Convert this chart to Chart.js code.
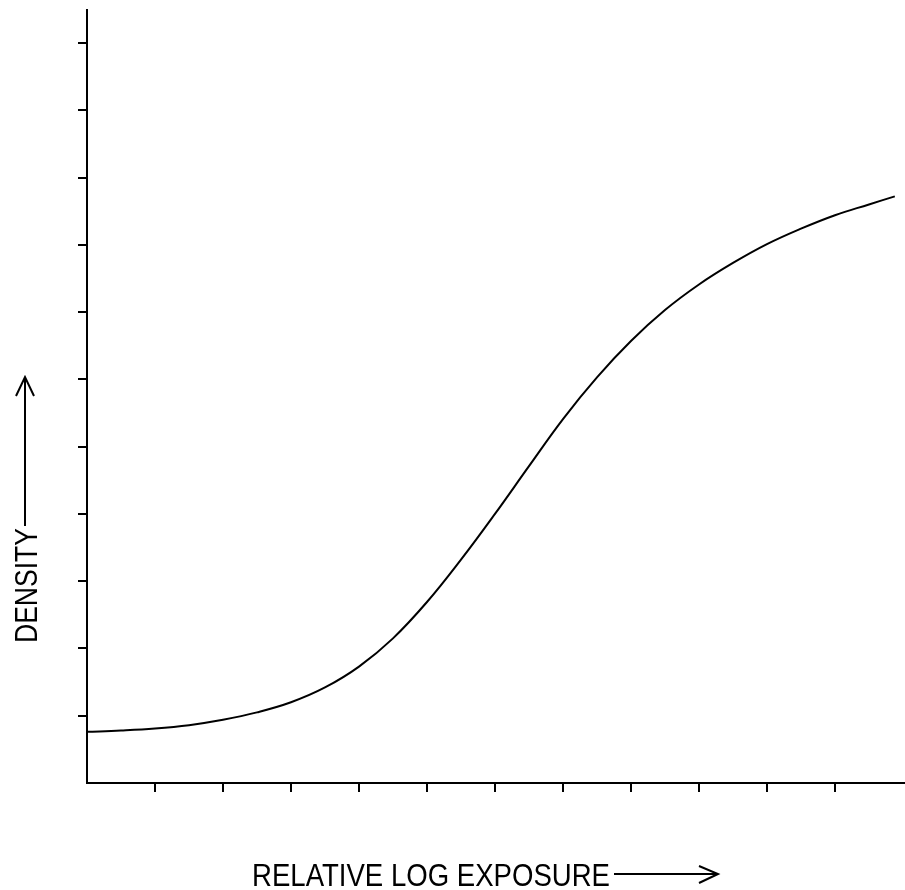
<!DOCTYPE html>
<html>
<head>
<meta charset="utf-8">
<script src="https://cdn.jsdelivr.net/npm/chart.js@4"></script>
<style>
html,body{margin:0;padding:0;background:#fff;}
#wrap{width:905px;height:890px;}
</style>
</head>
<body>
<div id="wrap"><canvas id="c" width="905" height="890"></canvas></div>
<script>
// Data (relative log exposure units = tick index, density units = tick index)
const logExposure = [0, 0.5, 1, 1.5, 2, 2.5, 3, 3.5, 4, 4.5, 5, 5.5, 6, 6.5, 7, 7.5, 8, 8.5, 9, 9.5, 10, 10.5, 11, 11.5, 11.88];
const density     = [0.76, 0.78, 0.81, 0.86, 0.94, 1.05, 1.20, 1.42, 1.73, 2.15, 2.69, 3.32, 4.00, 4.71, 5.41, 6.03, 6.57, 7.03, 7.41, 7.73, 8.01, 8.24, 8.44, 8.60, 8.72];
const xTickValues = [1, 2, 3, 4, 5, 6, 7, 8, 9, 10, 11];
const yTickValues = [1, 2, 3, 4, 5, 6, 7, 8, 9, 10, 11];
const xTitle = "RELATIVE LOG EXPOSURE";
const yTitle = "DENSITY";

const points = logExposure.map((x, i) => ({x: x, y: density[i]}));

const titlesPlugin = {
  id: 'titles',
  afterDraw(chart) {
    const ctx = chart.ctx;
    ctx.save();
    ctx.fillStyle = '#000';
    ctx.strokeStyle = '#000';
    ctx.lineWidth = 2;
    ctx.font = '32px "Liberation Sans", Arial, sans-serif';
    ctx.textBaseline = 'alphabetic';
    ctx.textAlign = 'left';
    // x title
    let w = ctx.measureText(xTitle).width;
    let sx = 358 / w;
    ctx.save();
    ctx.translate(252, 886);
    ctx.scale(sx, 1);
    ctx.fillText(xTitle, 0, 0);
    ctx.restore();
    // x arrow
    ctx.beginPath();
    ctx.moveTo(614, 874); ctx.lineTo(717, 874);
    ctx.moveTo(699, 866); ctx.lineTo(718, 874); ctx.lineTo(699, 883);
    ctx.stroke();
    // y title
    w = ctx.measureText(yTitle).width;
    sx = 115 / w;
    ctx.save();
    ctx.translate(37, 643);
    ctx.rotate(-Math.PI / 2);
    ctx.scale(sx, 1);
    ctx.fillText(yTitle, 0, 0);
    ctx.restore();
    // y arrow
    ctx.beginPath();
    ctx.moveTo(25, 526); ctx.lineTo(25, 378);
    ctx.moveTo(16, 396); ctx.lineTo(25, 377); ctx.lineTo(34, 396);
    ctx.stroke();
    ctx.restore();
  }
};

new Chart(document.getElementById('c'), {
  type: 'line',
  data: {
    datasets: [{
      data: points,
      borderColor: '#000',
      borderWidth: 2,
      pointRadius: 0,
      fill: false,
      tension: 0.4
    }]
  },
  options: {
    responsive: false,
    animation: false,
    layout: {padding: {top: 10, right: 0, left: 0, bottom: 0}},
    plugins: {legend: {display: false}, tooltip: {enabled: false}, title: {display: false}},
    scales: {
      x: {
        type: 'linear',
        min: 0,
        max: 12.03,
        afterBuildTicks(s) { s.ticks = xTickValues.map(v => ({value: v})); },
        afterFit(s) { s.height = 107; },
        ticks: {display: false},
        grid: {drawOnChartArea: false, drawTicks: true, tickLength: 9, color: '#000', lineWidth: 2},
        border: {display: true, color: '#000', width: 2}
      },
      y: {
        type: 'linear',
        min: 0,
        max: 11.49,
        afterBuildTicks(s) { s.ticks = yTickValues.map(v => ({value: v})); },
        afterFit(s) { s.width = 87; },
        ticks: {display: false},
        grid: {drawOnChartArea: false, drawTicks: true, tickLength: 9, color: '#000', lineWidth: 2},
        border: {display: true, color: '#000', width: 2}
      }
    }
  },
  plugins: [titlesPlugin]
});
</script>
</body>
</html>
